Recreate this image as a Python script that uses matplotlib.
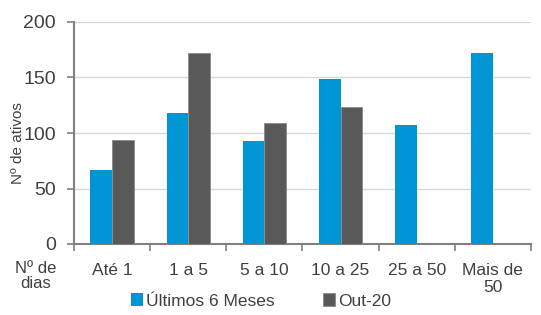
import matplotlib
matplotlib.use("Agg")
import matplotlib.pyplot as plt
import numpy as np

categories = ["Até 1", "1 a 5", "5 a 10", "10 a 25", "25 a 50", "Mais de\n50"]
ultimos = [67, 118, 93, 149, 107, 172]
out20 = [94, 172, 109, 123, 0, 0]
yticks = [0, 50, 100, 150, 200]

plt.rcParams['font.family'] = ['Liberation Sans', 'DejaVu Sans']
fig = plt.figure(figsize=(5.41, 3.15), dpi=100)
ax = fig.add_axes([74/541, 1-244/315, (531-74)/541, (244-22)/315])

x = np.arange(len(categories))
w = 0.285
blue = "#0096D6"
gray = "#595959"
ax.bar(x - w/2, ultimos, w, color=blue, label="Últimos 6 Meses", zorder=3)
ax.bar(x + w/2, out20, w, color=gray, edgecolor="#8a8a8a", linewidth=0.6, label="Out-20", zorder=3)

ax.set_xlim(-0.5, len(categories) - 0.5)
ax.set_ylim(0, 200)
ax.set_yticks(yticks)
ax.yaxis.grid(True, color="#d9d9d9", linewidth=1, zorder=0)
ax.set_axisbelow(True)

ax.set_xticks(np.arange(len(categories) + 1) - 0.5)
ax.set_xticklabels([])
ax.set_xticks(x, minor=True)
ax.set_xticklabels(categories, minor=True, fontsize=12.5, color="#404040", linespacing=1.1)
ax.tick_params(axis='x', which='minor', length=0, pad=14)
ax.tick_params(axis='x', which='major', length=5, color="#808080", width=1.2)
ax.tick_params(axis='y', length=5, color="#808080", width=1.2, labelsize=14, labelcolor="#404040", pad=8)

for s in ["top", "right"]:
    ax.spines[s].set_visible(False)
for s in ["left", "bottom"]:
    ax.spines[s].set_color("#808080")
    ax.spines[s].set_linewidth(1.5)

fig.text(18/541, 1-143/315, "Nº de ativos", rotation=90, ha="center", va="center", fontsize=11, color="#404040")
fig.text(36/541, 1-276/315, "Nº de\ndias", ha="center", va="center", fontsize=12, color="#404040", linespacing=1.05)

fig.legend(*ax.get_legend_handles_labels(), loc="center left", bbox_to_anchor=(131/541, 1-301/315),
           ncol=2, frameon=False, fontsize=12.5, borderpad=0, borderaxespad=0,
           handlelength=0.7, handleheight=0.7, handletextpad=0.15, columnspacing=2.8,
           labelcolor="#404040")

fig.savefig("out.png", dpi=100)
